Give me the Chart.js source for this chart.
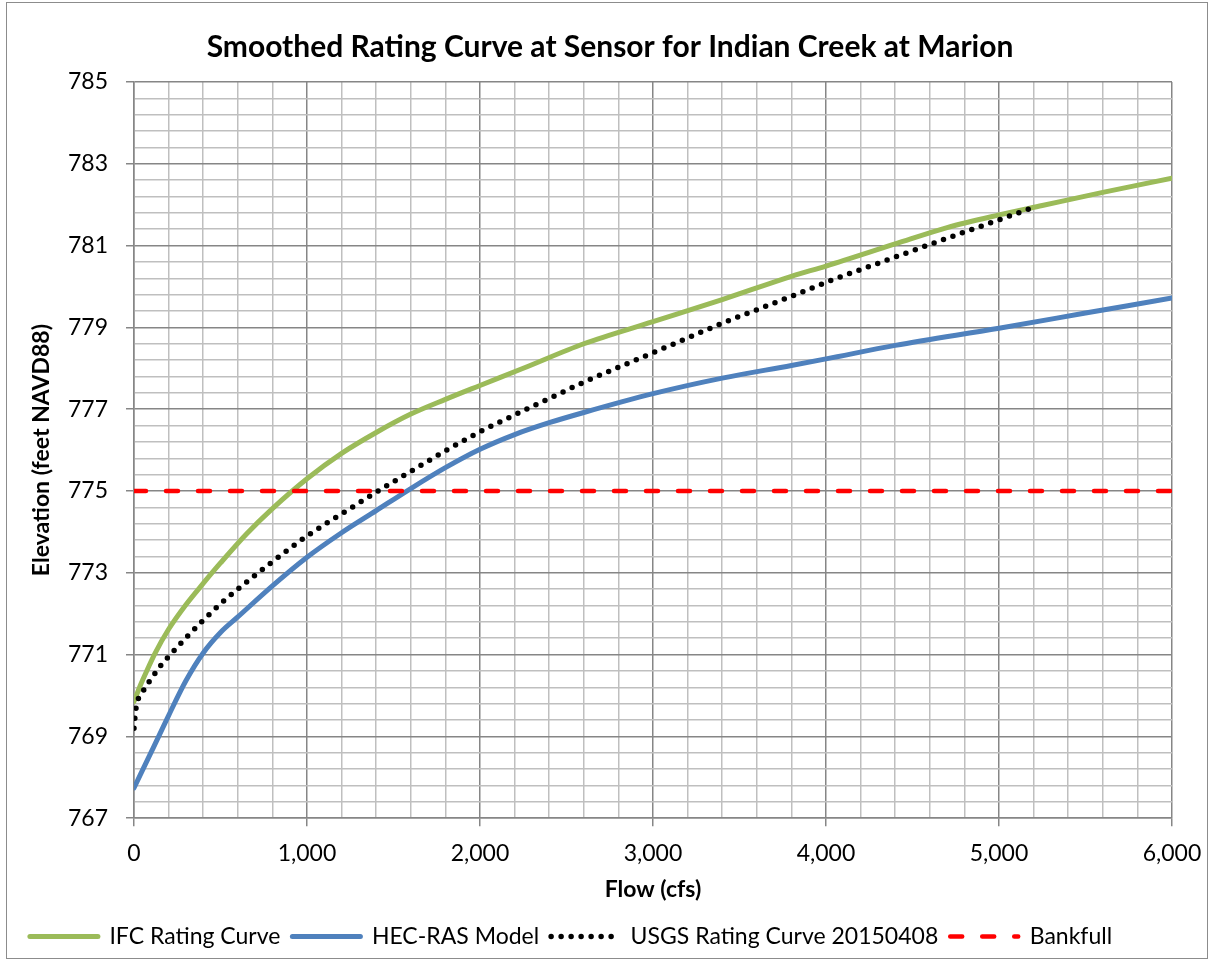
<!DOCTYPE html>
<html>
<head>
<meta charset="utf-8">
<script src="https://cdn.jsdelivr.net/npm/chart.js@4"></script>
<style>
  html, body { margin: 0; padding: 0; background: #fff; }
  #wrap { position: relative; width: 1210px; height: 961px; }
  #frame { position: absolute; left: 6px; top: 2px; width: 1200px; height: 955px; border: 1px solid #8c8c8c; pointer-events: none; }
</style>
</head>
<body>
<div id="wrap">
  <canvas id="c" width="1210" height="961"></canvas>
  <div id="frame"></div>
</div>
<script>
const titleText = 'Smoothed Rating Curve at Sensor for Indian Creek at Marion';
const xTitle = 'Flow (cfs)';
const yTitle = 'Elevation (feet NAVD88)';

const ifcFlow = [0, 40, 80, 120, 200, 300, 400, 500, 650, 800, 1000, 1200, 1400, 1600, 1800, 2000, 2250, 2600, 3000, 3400, 3800, 4000, 4400, 4700, 5000, 5250, 5600, 6000];
const ifcElev = [769.85, 770.28, 770.66, 771.02, 771.62, 772.22, 772.74, 773.24, 773.95, 774.57, 775.30, 775.92, 776.43, 776.88, 777.24, 777.58, 778.00, 778.60, 779.14, 779.68, 780.25, 780.50, 781.04, 781.44, 781.75, 781.98, 782.30, 782.65];

const hecFlow = [0, 100, 200, 300, 400, 500, 600, 800, 1000, 1200, 1400, 1600, 1800, 2000, 2200, 2400, 2600, 3000, 3400, 3800, 4000, 4400, 5000, 5500, 6000];
const hecElev = [767.74, 768.62, 769.51, 770.36, 771.04, 771.54, 771.92, 772.68, 773.38, 773.98, 774.52, 775.06, 775.57, 776.02, 776.38, 776.67, 776.92, 777.38, 777.76, 778.07, 778.23, 778.56, 778.98, 779.35, 779.72];

const usgsFlow = [0, 10, 50, 100, 150, 200, 300, 400, 500, 600, 700, 800, 1000, 1200, 1400, 1600, 1800, 2000, 2200, 2400, 2600, 3000, 3400, 3800, 4000, 4400, 4700, 5000, 5170];
const usgsElev = [769.20, 769.65, 770.08, 770.41, 770.71, 770.95, 771.41, 771.84, 772.24, 772.60, 772.94, 773.27, 773.90, 774.44, 774.97, 775.48, 775.98, 776.45, 776.86, 777.26, 777.66, 778.38, 779.10, 779.76, 780.10, 780.72, 781.18, 781.63, 781.89];

const bankFlow = [0, 6000];
const bankElev = [775, 775];

const seriesNames = ['IFC Rating Curve', 'HEC-RAS Model', 'USGS Rating Curve 20150408', 'Bankfull'];

const xMin = 0, xMax = 6000, xMinor = 200, xMajor = 1000;
const yMin = 767, yMax = 785, yMinor = 0.4, yMajor = 2;

function pts(xs, ys) { return xs.map((x, i) => ({ x: x, y: ys[i] })); }

const FONT = 'Lato, "Liberation Sans", sans-serif';
const MAJOR = '#868686', MINOR = '#bfbfbf';

function isMajor(v, base, step) {
  const r = (v - base) / step;
  return Math.abs(r - Math.round(r)) < 1e-6;
}

// shifts the centred title and legend horizontally to match the reference placement
const centreShift = {
  id: 'centreShift',
  beforeDraw(chart) {
    if (chart.titleBlock && !chart.titleBlock._shifted) {
      chart.titleBlock.left += 48; chart.titleBlock._shifted = true;
    }
    if (chart.legend && !chart.legend._shifted) {
      chart.legend.left -= 15; chart.legend.right -= 15; chart.legend._shifted = true;
    }
  }
};

const ctx = document.getElementById('c').getContext('2d');
new Chart(ctx, {
  type: 'scatter',
  plugins: [centreShift],
  data: {
    datasets: [
      { label: seriesNames[0], data: pts(ifcFlow, ifcElev), showLine: true, borderColor: '#9bbb59', backgroundColor: '#9bbb59', borderWidth: 5, pointRadius: 0, cubicInterpolationMode: 'monotone', order: 4, borderCapStyle: 'round' },
      { label: seriesNames[1], data: pts(hecFlow, hecElev), showLine: true, borderColor: '#4f81bd', backgroundColor: '#4f81bd', borderWidth: 5, pointRadius: 0, cubicInterpolationMode: 'monotone', order: 3, borderCapStyle: 'round' },
      { label: seriesNames[2], data: pts(usgsFlow, usgsElev), showLine: true, borderColor: '#000000', backgroundColor: '#000000', borderWidth: 5.5, borderDash: [0, 10], borderCapStyle: 'round', pointRadius: 0, cubicInterpolationMode: 'monotone', order: 2 },
      { label: seriesNames[3], data: pts(bankFlow, bankElev), showLine: true, borderColor: '#ff0000', backgroundColor: '#ff0000', borderWidth: 4.5, borderDash: [12, 20], borderCapStyle: 'round', pointRadius: 0, order: 1 }
    ]
  },
  options: {
    responsive: false,
    animation: false,
    devicePixelRatio: 1,
    layout: { padding: { left: 0, right: 38, top: 0, bottom: 3 } },
    plugins: {
      title: {
        display: true,
        text: titleText,
        color: '#000',
        font: { family: FONT, size: 30, weight: 'bold' },
        padding: { top: 29, bottom: 17 }
      },
      legend: {
        position: 'bottom',
        labels: {
          usePointStyle: true,
          pointStyleWidth: 68,
          boxHeight: 10,
          padding: 12,
          color: '#000',
          font: { family: FONT, size: 23 },
          generateLabels: (chart) => chart.data.datasets.map((ds, i) => ({
            text: ds.label,
            strokeStyle: ds.borderColor,
            fillStyle: ds.borderColor,
            lineWidth: ds.borderWidth,
            lineDash: ds.borderDash || [],
            lineCap: ds.borderCapStyle || 'butt',
            pointStyle: 'line',
            hidden: false,
            datasetIndex: i,
            fontColor: '#000'
          }))
        }
      },
      tooltip: { enabled: false }
    },
    scales: {
      x: {
        type: 'linear',
        min: xMin, max: xMax,
        afterFit: (s) => { s.height = 94.8; s.paddingRight = 0; },
        ticks: {
          stepSize: xMinor,
          autoSkip: false,
          maxRotation: 0,
          padding: 14,
          color: '#000',
          font: { family: FONT, size: 23 },
          callback: (v) => isMajor(v, xMin, xMajor) ? Number(v).toLocaleString('en-US') : ''
        },
        grid: {
          color: (c) => isMajor(c.tick.value, xMin, xMajor) ? MAJOR : MINOR,
          tickColor: (c) => isMajor(c.tick.value, xMin, xMajor) ? MAJOR : 'rgba(0,0,0,0)',
          lineWidth: 1.5,
          tickLength: 8
        },
        border: { color: MAJOR, width: 1.5 },
        title: {
          display: true,
          text: xTitle,
          color: '#000',
          font: { family: FONT, size: 23, weight: 'bold' },
          padding: { top: 4, bottom: 10 }
        }
      },
      y: {
        type: 'linear',
        min: yMin, max: yMax,
        afterFit: (s) => { s.width = 134; },
        ticks: {
          stepSize: yMinor,
          autoSkip: false,
          padding: 18,
          color: '#000',
          font: { family: FONT, size: 23 },
          callback: (v) => isMajor(v, yMin, yMajor) ? String(Math.round(v)) : ''
        },
        grid: {
          color: (c) => isMajor(c.tick.value, yMin, yMajor) ? MAJOR : MINOR,
          tickColor: (c) => isMajor(c.tick.value, yMin, yMajor) ? MAJOR : 'rgba(0,0,0,0)',
          lineWidth: 1.5,
          tickLength: 8
        },
        border: { color: MAJOR, width: 1.5 },
        title: {
          display: true,
          text: yTitle,
          color: '#000',
          font: { family: FONT, size: 23, weight: 'bold' },
          padding: { top: 28, bottom: 0 }
        }
      }
    }
  }
});
</script>
</body>
</html>
